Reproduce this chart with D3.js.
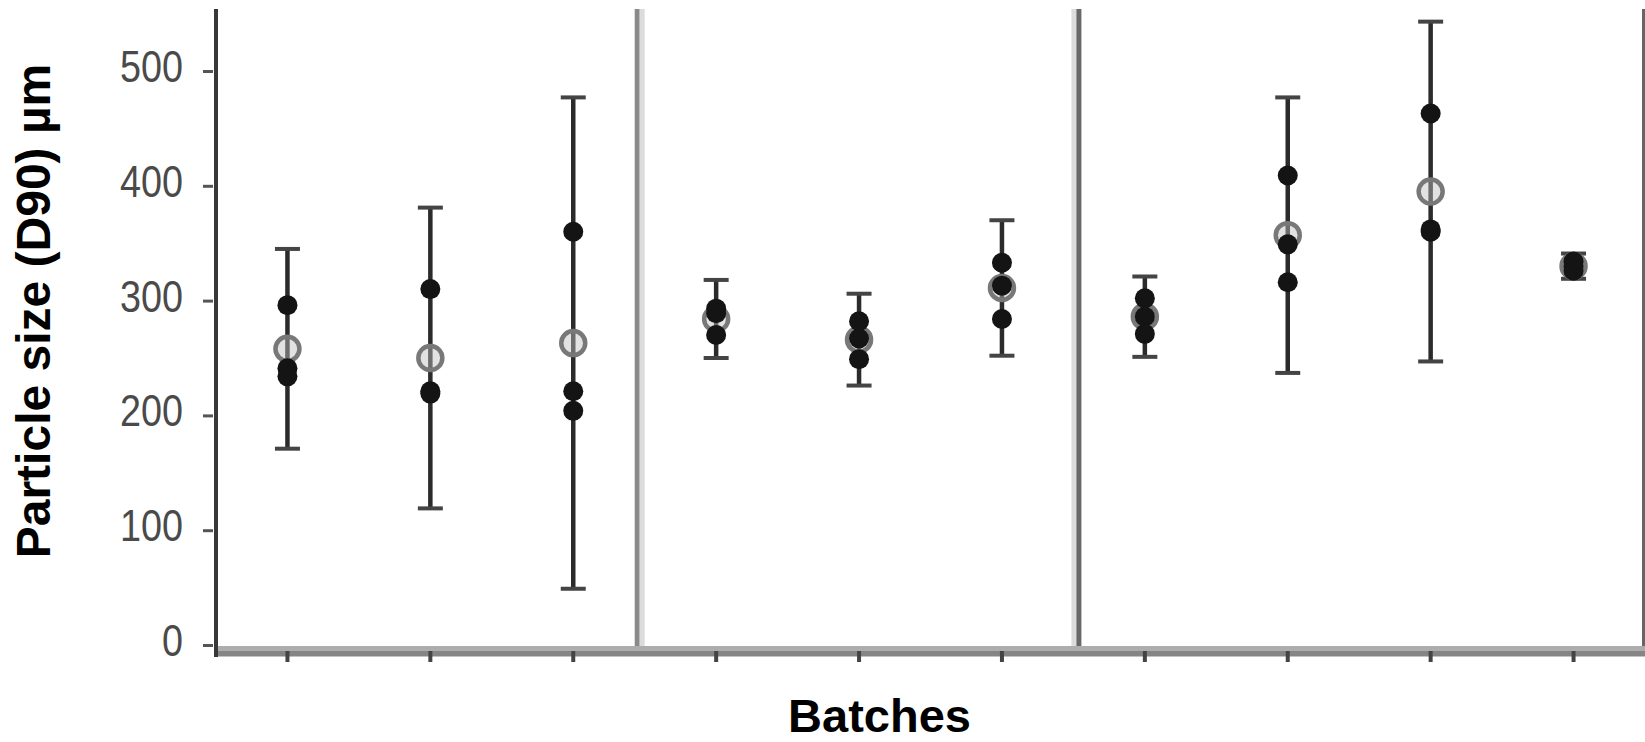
<!DOCTYPE html>
<html>
<head>
<meta charset="utf-8">
<script src="https://cdn.jsdelivr.net/npm/d3@7"></script>
<style>
  html, body { margin: 0; padding: 0; background: #fff; }
  svg { display: block; }
</style>
</head>
<body>
<svg id="chart"></svg>
<script>
// batch ids (no labels printed under the ticks)
const batches = ['1', '2', '3', '4', '5', '6', '7', '8', '9', '10'];
// how the batches are grouped by the vertical dividers
const groupSizes = [3, 3, 4];
// individual D90 measurements per batch (um)
const batchPoints = [
  [296, 241, 234],
  [310, 221, 219],
  [360, 221, 204],
  [293, 289, 270],
  [282, 267, 249],
  [333, 313, 284],
  [302, 286, 271],
  [409, 349, 316],
  [463, 362, 360],
  [334, 330, 326],
];
// mean per batch (open grey marker)
const batchMeans = [258, 250, 263, 284, 266, 311, 286, 357, 395, 330];
// error bar half-width per batch
const batchErrors = [87, 131, 214, 34, 40, 59, 35, 120, 148, 11];
const yTicks = [0, 100, 200, 300, 400, 500];

const width = 1645;
const height = 742;
const plotLeft = 216;
const plotRight = 1645;
const plotBottom = 645;
const plotTop = 71;

const svg = d3.select('#chart')
    .attr('width', width)
    .attr('height', height)
    .attr('viewBox', [0, 0, width, height]);

const x = d3.scaleBand()
    .domain(batches)
    .range([plotLeft, plotRight]);
const y = d3.scaleLinear()
    .domain([0, 500])
    .range([plotBottom, plotTop]);

// group dividers
const bounds = d3.cumsum(groupSizes).slice(0, -1).map((n) => x(batches[n]));
bounds.forEach((bx, i) => {
  const dark = i === 0 ? '#8a8a8a' : '#686868';
  const offs = i === 0 ? [-7.5, -2.5] : [0.5, 5.5];
  svg.append('line')
      .attr('x1', bx + offs[0]).attr('x2', bx + offs[0])
      .attr('y1', 9).attr('y2', plotBottom + 6)
      .attr('stroke', i === 0 ? dark : '#dcdcdc')
      .attr('stroke-width', 5);
  svg.append('line')
      .attr('x1', bx + offs[1]).attr('x2', bx + offs[1])
      .attr('y1', 9).attr('y2', plotBottom + 6)
      .attr('stroke', i === 0 ? '#dcdcdc' : dark)
      .attr('stroke-width', 5);
});

// right border
svg.append('line')
    .attr('x1', plotRight - 1.5).attr('x2', plotRight - 1.5)
    .attr('y1', 9).attr('y2', plotBottom + 6)
    .attr('stroke', '#666')
    .attr('stroke-width', 3);

// x axis band
svg.append('rect')
    .attr('x', plotLeft - 2).attr('y', plotBottom + 1)
    .attr('width', plotRight - plotLeft + 2).attr('height', 6)
    .attr('fill', '#adadad');
svg.append('rect')
    .attr('x', plotLeft - 2).attr('y', plotBottom + 6)
    .attr('width', plotRight - plotLeft + 2).attr('height', 5.5)
    .attr('fill', '#858585');

const xAxis = d3.axisBottom(x).tickSize(11).tickFormat(() => '');
svg.append('g')
    .attr('class', 'x-axis')
    .attr('transform', `translate(0,${plotBottom + 6})`)
    .call(xAxis)
    .call((g) => g.select('.domain').remove())
    .call((g) => g.selectAll('.tick line')
        .attr('stroke', '#444')
        .attr('stroke-width', 4));

// y axis
const yAxis = d3.axisLeft(y).tickValues(yTicks).tickSize(10).tickPadding(20);
svg.append('g')
    .attr('class', 'y-axis')
    .attr('transform', `translate(${plotLeft - 3},0)`)
    .call(yAxis)
    .call((g) => g.select('.domain').remove())
    .call((g) => g.selectAll('.tick line')
        .attr('stroke', '#555')
        .attr('stroke-width', 3))
    .call((g) => g.selectAll('.tick text')
        .attr('fill', '#4a4a4a')
        .attr('font-family', 'Liberation Sans, Arial, sans-serif')
        .attr('font-size', 44)
        .attr('dy', '0.24em')
        .attr('textLength', (d) => String(d).length * 21)
        .attr('lengthAdjust', 'spacingAndGlyphs'));

svg.append('line')
    .attr('x1', plotLeft).attr('x2', plotLeft)
    .attr('y1', 9).attr('y2', plotBottom + 12)
    .attr('stroke', '#383838')
    .attr('stroke-width', 4);

// error bars
const cx = (i) => x(batches[i]) + x.bandwidth() / 2;
const bars = svg.append('g')
    .attr('class', 'errors')
    .selectAll('g')
    .data(batchMeans)
    .join('g');
bars.append('line')
    .attr('x1', (d, i) => cx(i)).attr('x2', (d, i) => cx(i))
    .attr('y1', (d, i) => y(d + batchErrors[i]))
    .attr('y2', (d, i) => y(d - batchErrors[i]))
    .attr('stroke', '#2b2b2b')
    .attr('stroke-width', 4.5);
[1, -1].forEach((sgn) => {
  bars.append('line')
      .attr('x1', (d, i) => cx(i) - 12.5).attr('x2', (d, i) => cx(i) + 12.5)
      .attr('y1', (d, i) => y(d + sgn * batchErrors[i]))
      .attr('y2', (d, i) => y(d + sgn * batchErrors[i]))
      .attr('stroke', '#444')
      .attr('stroke-width', 4);
});

// mean markers
svg.append('g')
    .attr('class', 'means')
    .selectAll('circle')
    .data(batchMeans)
    .join('circle')
    .attr('cx', (d, i) => cx(i))
    .attr('cy', (d) => y(d))
    .attr('r', 12)
    .attr('fill', 'rgba(190,190,190,0.45)')
    .attr('stroke', '#787878')
    .attr('stroke-width', 4.5);

// individual measurements
const flat = batchPoints.flatMap((vals, i) => vals.map((v) => ({i, v})));
svg.append('g')
    .attr('class', 'points')
    .selectAll('circle')
    .data(flat)
    .join('circle')
    .attr('cx', (d) => cx(d.i))
    .attr('cy', (d) => y(d.v))
    .attr('r', 10)
    .attr('fill', '#141414');

// axis titles
svg.append('text')
    .attr('x', (plotLeft + plotRight) / 2 - 51)
    .attr('y', 732)
    .attr('text-anchor', 'middle')
    .attr('font-family', 'Liberation Sans, Arial, sans-serif')
    .attr('font-weight', 'bold')
    .attr('font-size', 47)
    .attr('fill', '#000')
    .text('Batches');

svg.append('text')
    .attr('transform', 'translate(50,311) rotate(-90)')
    .attr('text-anchor', 'middle')
    .attr('font-family', 'Liberation Sans, Arial, sans-serif')
    .attr('font-weight', 'bold')
    .attr('font-size', 48)
    .attr('fill', '#000')
    .text('Particle size (D90) µm');
</script>
</body>
</html>
